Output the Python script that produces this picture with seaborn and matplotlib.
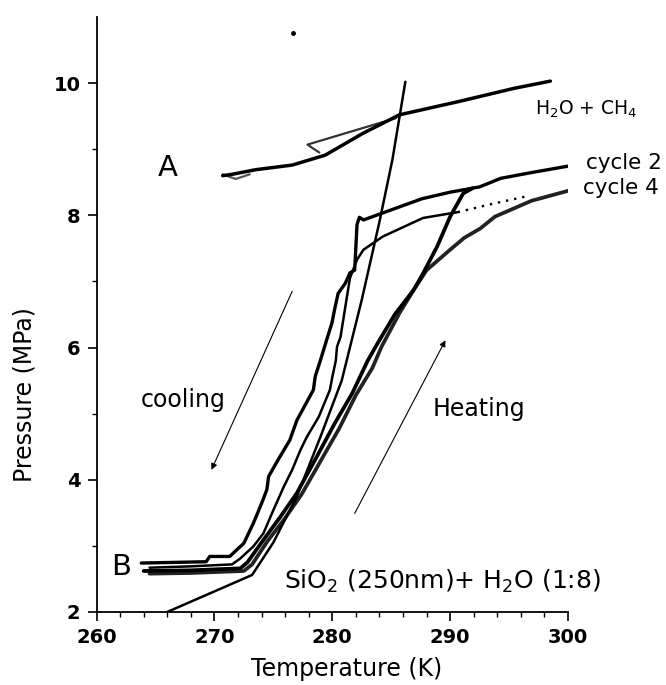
import matplotlib
matplotlib.use("Agg")
import matplotlib.pyplot as plt
import seaborn as sns

# ----- data -----------------------------------------------------------------
# H2O + CH4 bulk run (curve A)
a_heat_T = [270.7, 271.5, 273.5, 276.6, 279.4, 282.6, 285.7, 290.7, 295.4, 298.5]
a_heat_P = [8.60, 8.62, 8.69, 8.76, 8.91, 9.24, 9.52, 9.72, 9.92, 10.03]
a_back_T = [285.4, 277.9, 278.3, 278.9]
a_back_P = [9.47, 9.07, 9.02, 8.95]
a_start_T = [270.7, 271.8, 273.0]
a_start_P = [8.62, 8.55, 8.62]

# hydrate equilibrium line
eq_T = [266.0, 273.2, 275.0, 277.0, 279.0, 280.8, 282.5, 284.0, 285.1, 286.2]
eq_P = [2.00, 2.56, 3.05, 3.75, 4.65, 5.50, 6.72, 7.90, 8.84, 10.02]

# cycle 2 cooling
c2_cool_T = [300.2, 297.0, 294.3, 292.5, 290.0, 287.6, 284.5, 282.65, 282.3, 282.1,
             281.9, 281.5, 281.1, 280.5, 280.25, 279.97, 279.6, 279.0, 278.55,
             278.4, 277.0, 276.4, 275.4, 274.6, 274.45, 274.0, 273.3, 272.5,
             271.6, 271.3, 269.6, 269.3, 263.8]
c2_cool_P = [8.75, 8.65, 8.56, 8.43, 8.35, 8.25, 8.05, 7.93, 7.97, 7.86,
             7.17, 7.13, 6.97, 6.82, 6.62, 6.37, 6.16, 5.81, 5.56,
             5.36, 4.90, 4.60, 4.30, 4.05, 3.85, 3.64, 3.34, 3.04,
             2.89, 2.84, 2.84, 2.76, 2.74]

# cycle 4 cooling (first part drawn dotted)
c4_dot_T = [296.3, 293.5, 290.7]
c4_dot_P = [8.28, 8.17, 8.05]
c4_cool_T = [290.7, 287.7, 284.3, 282.65, 282.1, 281.5, 281.2, 280.7, 280.4,
             280.3, 280.0, 279.8, 278.85, 277.85, 277.3, 276.6, 275.9, 275.0,
             274.16, 273.3, 272.2, 271.5, 268.0, 264.5]
c4_cool_P = [8.05, 7.96, 7.68, 7.48, 7.33, 7.05, 6.72, 6.16, 6.01,
             5.80, 5.55, 5.36, 4.95, 4.65, 4.45, 4.15, 3.90, 3.54,
             3.19, 2.99, 2.81, 2.72, 2.69, 2.67]

# heating curves
c2_heat_T = [264.0, 268.0, 272.2, 272.8, 274.16, 275.6, 277.0, 278.6, 280.2, 281.7,
             283.0, 283.8, 285.3, 286.9, 287.7, 288.9, 290.0, 291.1, 291.9]
c2_heat_P = [2.62, 2.63, 2.66, 2.75, 3.09, 3.44, 3.80, 4.32, 4.85, 5.31,
             5.80, 6.05, 6.50, 6.87, 7.12, 7.53, 7.98, 8.33, 8.41]
c4_heat_T = [264.5, 268.0, 272.5, 273.2, 274.5, 276.0, 277.4, 279.0, 280.6, 282.0,
             283.4, 284.2, 285.7, 286.9, 288.0, 290.0, 291.2, 292.55, 293.8, 296.9, 300.2]
c4_heat_P = [2.58, 2.59, 2.62, 2.72, 3.07, 3.42, 3.78, 4.28, 4.78, 5.28,
             5.69, 6.02, 6.52, 6.87, 7.17, 7.48, 7.66, 7.80, 7.98, 8.22, 8.38]

# direction arrows (tail -> head)
cool_arrow = [(276.6, 6.85), (269.75, 4.15)]
heat_arrow = [(281.9, 3.49), (289.6, 6.11)]

x_ticks = [260, 270, 280, 290, 300]
y_ticks = [2, 4, 6, 8, 10]

# ----- style -----------------------------------------------------------------
sns.set_theme(style="ticks")
plt.rcParams.update({
    "font.family": ["DejaVu Sans"],
    "axes.edgecolor": "black",
    "axes.linewidth": 1.3,
    "xtick.color": "black",
    "ytick.color": "black",
    "text.color": "black",
    "axes.labelcolor": "black",
})

fig = plt.figure(figsize=(6.66, 6.85), dpi=100)
ax = fig.add_axes([0.1449, 0.1066, 0.708, 0.8686])


def curve(T, P, lw, color="black", **kw):
    sns.lineplot(x=T, y=P, sort=False, estimator=None, color=color, lw=lw,
                 ax=ax, legend=False, solid_joinstyle="round", **kw)


curve(a_start_T, a_start_P, 1.6, color="#555555")
curve(a_back_T, a_back_P, 1.6, color="#333333")
curve(a_heat_T, a_heat_P, 2.5)

curve(c4_heat_T, c4_heat_P, 2.7, color="#222222")
curve(c2_heat_T, c2_heat_P, 2.7)
curve(c2_cool_T, c2_cool_P, 2.4)
curve(c4_cool_T, c4_cool_P, 1.8)
curve(c4_dot_T, c4_dot_P, 1.7, linestyle=(0, (1, 2.5)))
curve(eq_T, eq_P, 1.8)

for (t0, p0), (t1, p1) in (cool_arrow, heat_arrow):
    ax.annotate("", xy=(t1, p1), xytext=(t0, p0),
                arrowprops=dict(arrowstyle="-|>", lw=0.8, color="black",
                                mutation_scale=9, shrinkA=0, shrinkB=0))

ax.plot([276.7], [10.76], "o", color="black", ms=2.5)

ax.text(266.0, 8.71, "A", fontsize=21, ha="center", va="center")
ax.text(262.1, 2.68, "B", fontsize=21, ha="center", va="center")
ax.text(267.35, 5.21, "cooling", fontsize=17, ha="center", va="center")
ax.text(292.4, 5.07, "Heating", fontsize=17, ha="center", va="center")
ax.text(275.9, 2.46, r"SiO$_2$ (250nm)+ H$_2$O (1:8)", fontsize=18,
        ha="left", va="center")
ax.text(297.2, 9.6, r"H$_2$O + CH$_4$", fontsize=13.5, ha="left", va="center",
        clip_on=False)
ax.text(301.5, 8.79, "cycle 2", fontsize=15.5, ha="left", va="center", clip_on=False)
ax.text(301.3, 8.41, "cycle 4", fontsize=15.5, ha="left", va="center", clip_on=False)

ax.set_xlim(260, 300)
ax.set_ylim(2, 11)
ax.set_xticks(x_ticks)
ax.set_yticks(y_ticks)
ax.set_xticks(range(260, 301, 2), minor=True)
ax.set_yticks(range(2, 11), minor=True)
ax.tick_params(which="major", direction="out", length=6.5, width=1.2, pad=5,
               labelsize=14)
ax.tick_params(which="minor", direction="out", length=3.5, width=1.0)
for lab in ax.get_xticklabels() + ax.get_yticklabels():
    lab.set_fontweight("bold")

ax.set_xlabel("Temperature (K)", fontsize=17)
ax.set_ylabel("Pressure (MPa)", fontsize=17)
ax.xaxis.set_label_coords(0.531, -0.0756)
ax.yaxis.set_label_coords(-0.128, 0.365)
sns.despine(ax=ax)

fig.savefig("out.png", dpi=100)
